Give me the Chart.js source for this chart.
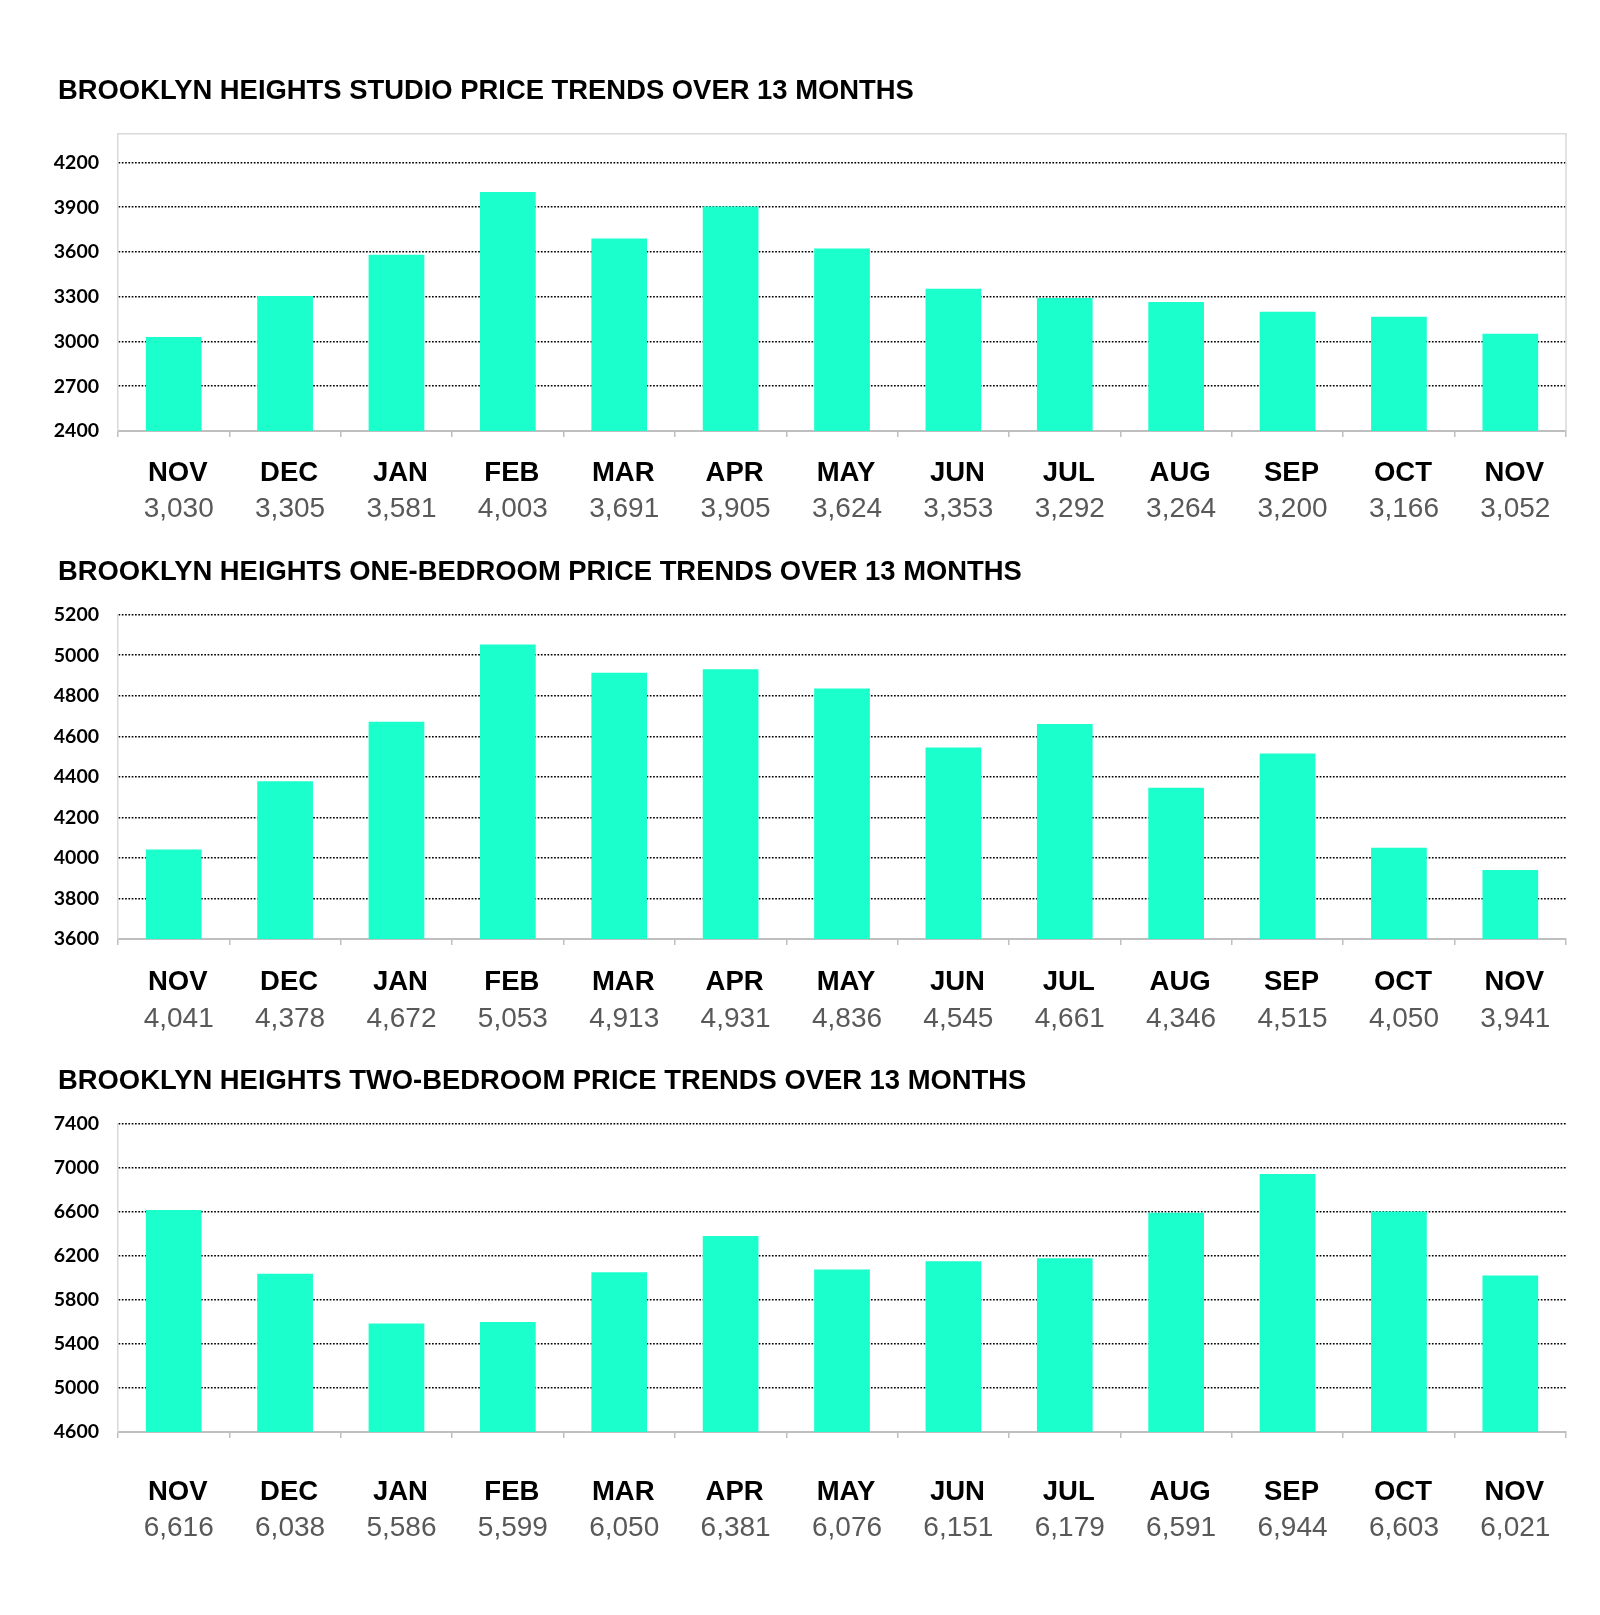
<!DOCTYPE html>
<html>
<head>
<meta charset="utf-8">
<script src="https://cdn.jsdelivr.net/npm/chart.js@4.4.1/dist/chart.umd.min.js"></script>
<style>
    body { margin: 0; background: #fff; }
    .page { position: relative; width: 1600px; height: 1615px; }
    .titulo {
        position: absolute; left: 58px;
        font: bold 27.4px "Liberation Sans", Arial, sans-serif;
        line-height: 27px; color: #000; white-space: nowrap; z-index: 2;
    }
    .box { position: absolute; left: 0; width: 1600px; }
</style>
</head>
<body>
<div class="page">
    <div class="titulo" style="top:76px">BROOKLYN HEIGHTS STUDIO PRICE TRENDS OVER 13 MONTHS</div>
    <div class="box" style="top:103px;height:429px"><canvas id="studio"></canvas></div>

    <div class="titulo" style="top:557px">BROOKLYN HEIGHTS ONE-BEDROOM PRICE TRENDS OVER 13 MONTHS</div>
    <div class="box" style="top:584px;height:456px"><canvas id="oneBed"></canvas></div>

    <div class="titulo" style="top:1066px">BROOKLYN HEIGHTS TWO-BEDROOM PRICE TRENDS OVER 13 MONTHS</div>
    <div class="box" style="top:1093px;height:458px"><canvas id="twoBed"></canvas></div>
</div>

<script>
const meses = ['NOV', 'DEC', 'JAN', 'FEB', 'MAR', 'APR', 'MAY', 'JUN', 'JUL', 'AUG', 'SEP', 'OCT', 'NOV'];

const studioValues = [3030, 3305, 3581, 4003, 3691, 3905, 3624, 3353, 3292, 3264, 3200, 3166, 3052];
const oneBedValues = [4041, 4378, 4672, 5053, 4913, 4931, 4836, 4545, 4661, 4346, 4515, 4050, 3941];
const twoBedValues = [6616, 6038, 5586, 5599, 6050, 6381, 6076, 6151, 6179, 6591, 6944, 6603, 6021];

const studioTicks = [2400, 2700, 3000, 3300, 3600, 3900, 4200];
const oneBedTicks = [3600, 3800, 4000, 4200, 4400, 4600, 4800, 5000, 5200];
const twoBedTicks = [4600, 5000, 5400, 5800, 6200, 6600, 7000, 7400];

const corBarra = '#1affcc';

// moldura de cima e da direita (so no primeiro grafico)
const molduraPlugin = {
    id: 'moldura',
    afterDraw(chart, args, opts) {
        if (!opts.show) return;
        const a = chart.chartArea;
        const ctx = chart.ctx;
        ctx.save();
        ctx.strokeStyle = '#d9d9d9';
        ctx.lineWidth = 1.5;
        ctx.beginPath();
        ctx.moveTo(a.left, a.top);
        ctx.lineTo(a.right, a.top);
        ctx.lineTo(a.right, a.bottom);
        ctx.stroke();
        ctx.restore();
    }
};

function criarGrafico(id, valores, ticks, yMax, cfg) {
    const rotulosValor = valores.map(v => v.toLocaleString('en-US'));
    const yMin = ticks[0];

    return new Chart(document.getElementById(id), {
        type: 'bar',
        data: {
            labels: meses,
            datasets: [{
                data: valores,
                backgroundColor: corBarra,
                barPercentage: 0.5,
                categoryPercentage: 1
            }]
        },
        plugins: [molduraPlugin],
        options: {
            responsive: true,
            maintainAspectRatio: false,
            animation: false,
            layout: { padding: { top: 0, right: 34, left: 0, bottom: 0 } },
            plugins: {
                legend: { display: false },
                tooltip: { enabled: false },
                moldura: { show: cfg.moldura }
            },
            scales: {
                x: {
                    position: 'bottom',
                    weight: 0,
                    grid: {
                        drawOnChartArea: false,
                        drawTicks: true,
                        tickLength: 6,
                        color: '#bfbfbf',
                        lineWidth: 1.5
                    },
                    border: { color: '#bfbfbf', width: 2 },
                    ticks: {
                        color: '#000',
                        padding: cfg.padMes,
                        labelOffset: 4,
                        maxRotation: 0,
                        autoSkip: false,
                        font: { family: '"Liberation Sans", Arial, sans-serif', size: 27.5, weight: 'bold' }
                    },
                    afterFit: function (s) { s.height = cfg.altMes; }
                },
                x2: {
                    type: 'category',
                    position: 'bottom',
                    weight: 1,
                    labels: rotulosValor,
                    grid: { display: false, drawTicks: false },
                    border: { display: false },
                    ticks: {
                        color: '#595959',
                        padding: cfg.padValor,
                        labelOffset: 5,
                        maxRotation: 0,
                        autoSkip: false,
                        font: { family: '"Liberation Sans", Arial, sans-serif', size: 28 }
                    },
                    afterFit: function (s) { s.height = 45; }
                },
                y: {
                    min: yMin,
                    max: yMax,
                    ticks: {
                        stepSize: ticks[1] - ticks[0],
                        padding: 19,
                        color: '#000',
                        font: { family: 'Lato, "Open Sans", sans-serif', size: 19.5, weight: 'bold' },
                        callback: function (v) { return String(v); }
                    },
                    afterBuildTicks: function (s) {
                        s.ticks = ticks.map(v => ({ value: v }));
                    },
                    afterFit: function (s) { s.width = 118; },
                    grid: {
                        drawTicks: false,
                        lineWidth: 1.5,
                        color: function (c) {
                            if (c.tick && c.tick.value === yMin) return 'rgba(0,0,0,0)';
                            return '#000';
                        }
                    },
                    border: { color: '#d9d9d9', width: 1.5, dash: [1.7, 1.6] }
                }
            }
        }
    });
}

criarGrafico('studio', studioValues, studioTicks, 4393,
    { padMes: 20, altMes: 56, padValor: 5, moldura: true });
criarGrafico('oneBed', oneBedValues, oneBedTicks, 5200,
    { padMes: 21, altMes: 56, padValor: 7, moldura: false });
criarGrafico('twoBed', twoBedValues, twoBedTicks, 7400,
    { padMes: 38, altMes: 74, padValor: 5, moldura: false });
</script>
</body>
</html>
